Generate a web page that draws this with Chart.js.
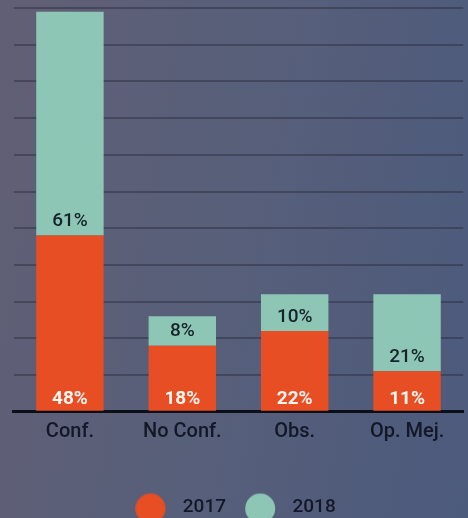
<!DOCTYPE html>
<html>
<head>
<meta charset="utf-8">
<script src="https://cdn.jsdelivr.net/npm/chart.js@4/dist/chart.umd.min.js"></script>
<style>
  html, body { margin: 0; padding: 0; overflow: hidden; }
  body { width: 468px; height: 518px; background: linear-gradient(100deg, #615f75 0%, #575f7a 50%, #4c5a7c 100%); }
  #wrap { position: relative; width: 468px; height: 527px; }
</style>
</head>
<body>
<div id="wrap"><canvas id="c"></canvas></div>
<script>
const categories = ['Conf.', 'No Conf.', 'Obs.', 'Op. Mej.'];
const seriesNames = ['2017', '2018'];
const values2017 = [48, 18, 22, 11];
const values2018 = [61, 8, 10, 21];
const orange = '#e84e23';
const teal = '#8ec6b6';

function legendDot(color) {
  const cv = document.createElement('canvas');
  cv.width = 44; cv.height = 36;
  const g = cv.getContext('2d');
  g.fillStyle = color;
  g.beginPath();
  g.arc(15.2, 19, 15, 0, Math.PI * 2);
  g.fill();
  return cv;
}
const dots = [legendDot(orange), legendDot(teal)];

const valueLabels = {
  id: 'valueLabels',
  afterDatasetsDraw(chart) {
    const ctx = chart.ctx;
    ctx.save();
    ctx.textAlign = 'center';
    ctx.textBaseline = 'middle';
    chart.data.datasets.forEach((ds, di) => {
      const meta = chart.getDatasetMeta(di);
      meta.data.forEach((bar, i) => {
        const v = ds.data[i];
        if (di === 0) {
          ctx.font = 'bold 19px Roboto';
          ctx.fillStyle = '#fdf5ef';
          ctx.fillText(v + '%', bar.x, bar.base - 11);
        } else {
          ctx.font = '500 19px Roboto';
          ctx.fillStyle = '#16232a';
          ctx.fillText(v + '%', bar.x, bar.base - 14);
        }
      });
    });
    ctx.restore();
  }
};

Chart.defaults.font.family = 'Roboto';
new Chart(document.getElementById('c'), {
  type: 'bar',
  data: {
    labels: categories,
    datasets: [
      { label: seriesNames[0], data: values2017, backgroundColor: orange, barPercentage: 0.6, categoryPercentage: 1 },
      { label: seriesNames[1], data: values2018, backgroundColor: teal, barPercentage: 0.6, categoryPercentage: 1 }
    ]
  },
  options: {
    responsive: true,
    maintainAspectRatio: false,
    animation: false,
    devicePixelRatio: 1,
    layout: { padding: { left: 13.75, right: 4.75, top: 8, bottom: 0 } },
    scales: {
      x: {
        stacked: true,
        z: 1,
        grid: { display: false, drawTicks: false },
        border: { display: true, color: '#0d0f18', width: 3 },
        ticks: { color: '#131828', font: { size: 20, weight: '500' }, padding: 8 },
        afterFit(scale) { scale.height = 61.3; }
      },
      y: {
        stacked: true,
        min: 0,
        max: 110,
        ticks: { display: false, stepSize: 10 },
        grid: { color: 'rgba(40,42,60,0.45)', lineWidth: 2, drawTicks: false },
        border: { display: false }
      }
    },
    plugins: {
      tooltip: { enabled: false },
      legend: {
        position: 'bottom',
        labels: {
          usePointStyle: true,
          pointStyleWidth: 32,
          padding: 25,
          color: '#131828',
          font: { size: 19, weight: '500' },
          generateLabels(chart) {
            const items = Chart.defaults.plugins.legend.labels.generateLabels(chart);
            return items.map((it, i) => Object.assign(it, { pointStyle: dots[i] }));
          }
        }
      }
    }
  },
  plugins: [valueLabels]
});
</script>
</body>
</html>
